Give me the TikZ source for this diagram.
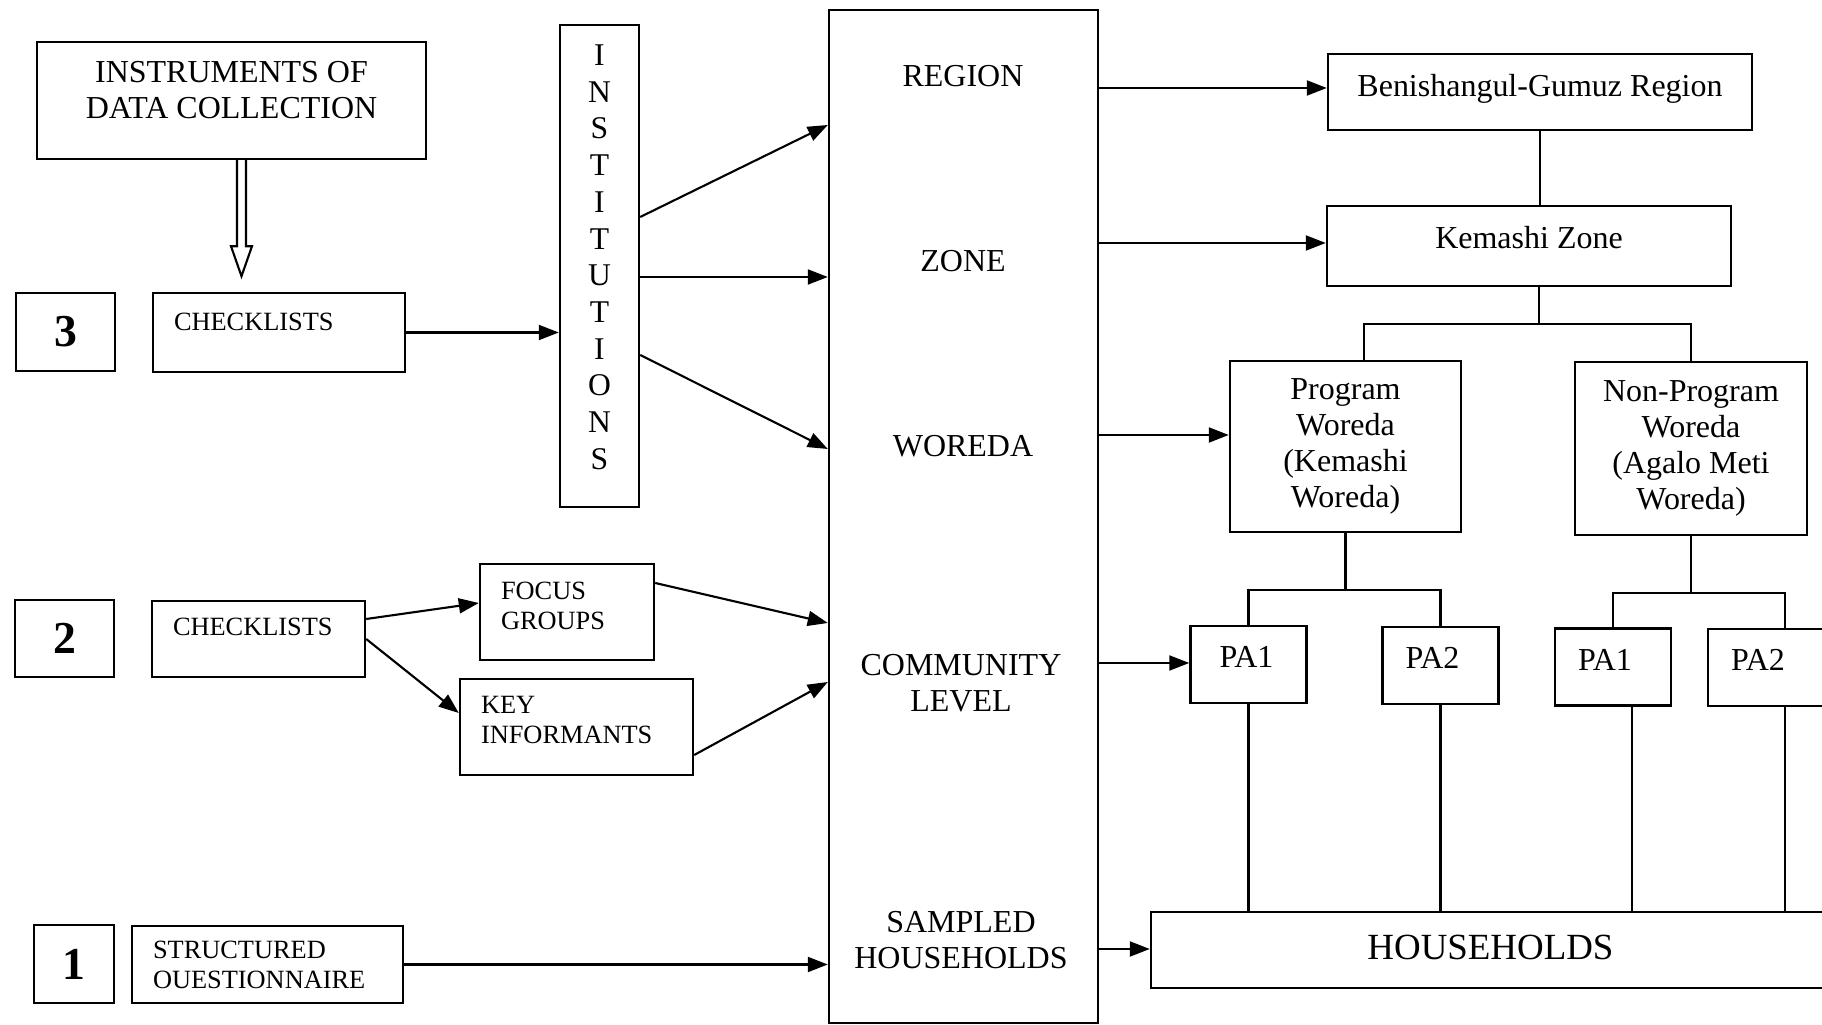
\documentclass[tikz,border=0pt]{standalone}
\usepackage{fontspec}
\setmainfont{Liberation Serif}
\usetikzlibrary{arrows.meta}

\begin{document}
\begin{tikzpicture}[x=0.1mm, y=-0.1mm, line width=0.6pt,
    box/.style={draw, line width=0.7pt, inner sep=0pt},
    txt/.style={font=\fontsize{9.1}{10.3}\selectfont},
    sml/.style={font=\fontsize{7.5}{8.5}\selectfont},
    num/.style={box, font=\fontsize{13}{15}\selectfont\bfseries},
    lift/.style={text depth=#1},
    lbox/.style={box, sml, align=left, inner xsep=2.1mm},
    pa/.style={box, txt, align=left, inner xsep=2.3mm, text width=7mm, lift=1.5mm, minimum height=7.7mm},
    arr/.style={-{Triangle[length=2mm, width=1.5mm]}}]
  \useasboundingbox (0,0) rectangle (1822,1025);
  \clip (0,0) rectangle (1822,1025);

  % instruments, numbered rows
  \node[box, txt, align=center, lift=2.1mm, minimum width=38.9mm, minimum height=11.7mm] (instr) at (231.5,100.5) {INSTRUMENTS OF\\DATA COLLECTION};
  \node[num, minimum width=9.9mm, minimum height=7.8mm] (n3) at (65.5,332) {3};
  \node[lbox, text width=21mm, lift=2.1mm, minimum height=7.9mm] (chk3) at (279,332.5) {CHECKLISTS};
  \node[num, minimum width=9.9mm, minimum height=7.7mm] (n2) at (64.5,638.5) {2};
  \node[lbox, text width=17.1mm, lift=2.4mm, minimum height=7.6mm] (chk2) at (258.5,639) {CHECKLISTS};
  \node[lbox, text width=13.2mm, lift=4.2mm, minimum height=9.6mm] (focus) at (567,612) {FOCUS\\GROUPS};
  \node[lbox, text width=19.1mm, lift=4.4mm, minimum height=9.6mm] (key) at (576.5,727) {KEY\\INFORMANTS};
  \node[num, minimum width=8mm, minimum height=7.8mm] (n1) at (74,964) {1};
  \node[lbox, text width=22.9mm, minimum height=7.7mm] (quest) at (267.5,964.5) {STRUCTURED\\OUESTIONNAIRE};
  \node[box, font=\fontsize{9}{10.44}\selectfont, align=center, lift=1.8mm, minimum width=7.9mm, minimum height=48.2mm] (inst) at (599.5,266) {I\\N\\S\\T\\I\\T\\U\\T\\I\\O\\N\\S};

  % levels column
  \node[box, minimum width=26.9mm, minimum height=101.3mm] (lev) at (963.5,516.5) {};
  \node[txt] (lreg) at (963,76) {REGION};
  \node[txt] (lzone) at (963,261) {ZONE};
  \node[txt] (lwor) at (963,446) {WOREDA};
  \node[txt, align=center] (lcom) at (961,683.5) {COMMUNITY\\LEVEL};
  \node[txt, align=center] (lsam) at (961,940) {SAMPLED\\HOUSEHOLDS};

  % study area
  \node[box, txt, lift=1.3mm, minimum width=42.4mm, minimum height=7.6mm] (benish) at (1540,92) {Benishangul-Gumuz Region};
  \node[box, txt, lift=1.8mm, minimum width=40.4mm, minimum height=8mm] (kem) at (1529,246) {Kemashi Zone};
  \node[box, txt, align=center, minimum width=23.1mm, minimum height=17.1mm] (prog) at (1345.5,446.5) {Program\\Woreda\\(Kemashi\\Woreda)};
  \node[box, txt, align=center, minimum width=23.2mm, minimum height=17.3mm] (nonprog) at (1691,448.5) {Non-Program\\Woreda\\(Agalo Meti\\Woreda)};
  \node[pa, inner xsep=2.9mm, text width=5.8mm] (pa1) at (1248.5,664.5) {PA1};
  \node[pa] (pa2) at (1440.5,665.5) {PA2};
  \node[pa] (pa1b) at (1613,667) {PA1};
  \node[pa] (pa2b) at (1766,667.5) {PA2};
  \node[box, font=\fontsize{10.5}{12}\selectfont, lift=0.6mm, minimum width=67.9mm, minimum height=7.6mm] (hh) at (1490.5,950) {HOUSEHOLDS};

  % hollow arrow
  \draw ([xshift=0.55mm]instr.south) -- ++(0,86) -- ++(-6,0) -- ++(10.5,30) -- ++(10.5,-30) -- ++(-6,0) -- ++(0,-86);

  \draw[arr] (chk3.east) -- (chk3.east -| inst.west);
  \draw[arr] (inst.east |- 0,217) -- (lev.west |- 0,125);
  \draw[arr] (inst.east |- 0,277) -- (lev.west |- 0,277);
  \draw[arr] (inst.east |- 0,355) -- (lev.west |- 0,449);
  \draw[arr] (chk2.east |- 0,619) -- (focus.west |- 0,603);
  \draw[arr] (chk2.east) -- (key.west |- 0,713);
  \draw[arr] (focus.east |- 0,583) -- (lev.west |- 0,623);
  \draw[arr] (key.east |- 0,755) -- (lev.west |- 0,682);
  \draw[arr] (quest.east) -- (quest.east -| lev.west);

  \draw[arr] (lev.east |- 0,88) -- (benish.west |- 0,88);
  \draw[arr] (lev.east |- 0,243) -- (kem.west |- 0,243);
  \draw[arr] (lev.east |- 0,435) -- (prog.west |- 0,435);
  \draw[arr] (lev.east |- 0,663) -- (pa1.west |- 0,663);
  \draw[arr] (lev.east |- 0,949) -- (hh.west |- 0,949);

  % tree lines
  \draw (benish.south) -- (benish.south |- kem.north);
  \draw ([xshift=1mm]kem.south) -- ++(0,37) coordinate (kfork);
  \draw (prog.north -| 1364,0) |- (kfork) -| (nonprog.north);
  \draw (prog.south) -- ++(0,57) coordinate (pfork);
  \draw (pa1.north) |- (pfork) -| (pa2.north);
  \draw (nonprog.south) -- ++(0,57) coordinate (nfork);
  \draw (pa1b.north) |- (nfork) -| (pa2b.north -| 1785,0);
  \draw (pa1.south) -- (pa1.south |- hh.north);
  \draw (pa2.south) -- (pa2.south |- hh.north);
  \draw (pa1b.south -| 1632,0) -- (hh.north -| 1632,0);
  \draw (pa2b.south -| 1785,0) -- (hh.north -| 1785,0);
\end{tikzpicture}
\end{document}
